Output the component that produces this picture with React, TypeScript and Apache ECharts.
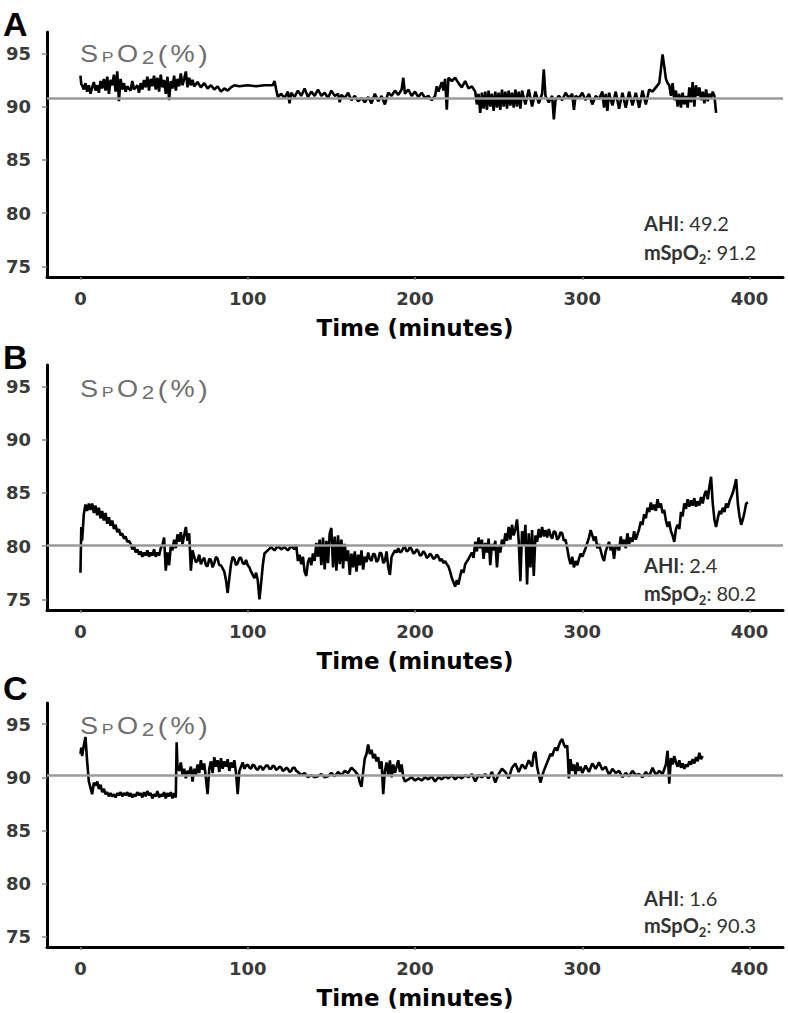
import React, { useEffect, useRef } from 'react';
import * as echarts from 'echarts';

const panelLetters = ['A', 'B', 'C'];
const yTicks = [75, 80, 85, 90, 95];
const xTicks = [0, 100, 200, 300, 400];
const ahiValues = ['49.2', '2.4', '1.6'];
const mspo2Values = ['91.2', '80.2', '90.3'];
const meanLines = [90.8, 80.1, 90.2];
const xAxisTitle = 'Time (minutes)';

const spo2A: [number, number][] = [
  [0,92.9],[0.5,92.1],[1,92.0],[2,91.6],[3,92.2],[4,91.4],[5,92.0],[6,91.2],[7,91.8],[8,92.3],[9,91.5],[10,92.0],[11,91.3],[12,92.4],[13,91.7],[14,92.6],[15,91.5],[16,92.8],[17,91.2],[18,92.5],[19,92.0],[20,93.0],[21,91.4],[22,93.3],[23,90.5],[24,92.6],[25,91.6],[26,92.2],[27,91.4],[28,91.9],[30,91.5],[31,92.4],[32,91.6],[34,92.0],[35,91.3],[36,92.2],[37,91.6],[38,92.5],[39,91.8],[40,92.8],[41,91.5],[42,92.6],[43,91.9],[44,92.9],[45,91.6],[46,92.7],[47,91.4],[48,93.0],[49,91.8],[50,92.5],[51,91.2],[52,92.8],[53,90.6],[54,92.4],[55,91.7],[56,92.9],[57,91.5],[58,92.6],[59,91.9],[60,93.1],[61,92.0],[62,92.6],[63,93.3],[64,91.8],[65,92.7],[66,92.0],[67,92.5],[68,91.9],[70,92.3],[72,91.8],[74,92.2],[76,91.7],[78,92.0],[80,91.6],[82,91.9],[84,91.4],[86,91.7],[88,91.5],[90,91.8],[92,92.0],[95,91.9],[100,92.0],[105,91.9],[110,92.0],[115,92.0],[116,92.4],[117,91.6],[118,90.9],[120,91.2],[122,90.8],[124,91.4],[125,90.3],[126,91.3],[128,90.9],[130,91.5],[132,91.0],[134,91.7],[136,90.9],[138,91.4],[140,91.0],[142,91.6],[144,91.0],[146,91.3],[148,90.8],[150,91.5],[152,91.0],[154,91.2],[155,90.4],[156,91.1],[158,90.8],[160,91.3],[162,90.6],[164,91.0],[166,90.5],[168,90.8],[170,90.4],[172,90.9],[174,90.3],[176,91.2],[178,90.5],[180,91.0],[182,90.2],[184,91.3],[186,91.0],[188,91.5],[190,91.1],[192,91.6],[193,92.7],[194,91.2],[196,91.6],[198,91.0],[200,91.4],[202,90.9],[204,91.3],[206,90.8],[208,91.0],[210,90.6],[212,91.0],[213,91.9],[214,91.4],[216,92.3],[217,91.5],[218,92.6],[219,89.7],[220,92.7],[222,92.4],[224,92.7],[226,92.2],[228,91.8],[230,92.4],[232,91.7],[234,91.9],[236,91.4],[237,90.2],[238,91.2],[239,89.4],[240,91.3],[241,89.8],[242,91.4],[243,89.7],[244,91.5],[245,90.0],[246,91.2],[247,89.6],[248,91.4],[249,89.9],[250,91.3],[251,89.7],[252,91.6],[253,90.0],[254,91.4],[255,89.8],[256,91.5],[257,90.1],[258,91.3],[259,89.9],[260,91.6],[261,90.0],[262,91.4],[263,89.8],[264,91.5],[266,90.2],[268,91.6],[270,90.0],[272,91.4],[274,90.3],[276,91.2],[277,93.5],[278,91.0],[280,90.4],[282,91.0],[283,88.8],[284,90.6],[286,91.0],[288,90.6],[290,91.3],[292,90.8],[294,91.2],[295,89.7],[296,91.0],[298,90.8],[300,91.3],[302,90.6],[304,91.2],[306,90.2],[308,91.0],[310,90.7],[312,91.4],[313,89.9],[314,91.2],[315,89.6],[316,91.3],[318,90.1],[320,91.4],[322,89.8],[324,91.3],[326,89.9],[328,91.4],[330,90.1],[332,91.3],[334,89.9],[336,91.5],[338,90.2],[340,91.6],[342,91.4],[344,91.8],[346,92.2],[347,93.5],[348,94.9],[349,93.8],[350,92.6],[351,92.2],[352,92.0],[353,91.0],[354,92.2],[355,90.6],[356,91.5],[357,90.0],[358,91.2],[359,89.9],[360,91.3],[361,90.2],[362,91.0],[363,89.9],[364,91.8],[365,90.4],[366,92.3],[367,90.0],[368,92.0],[369,91.0],[370,91.8],[371,90.6],[372,91.4],[373,90.3],[374,91.6],[375,90.5],[376,91.2],[377,90.8],[378,91.4],[379,91.0],[380,89.4]
];

const spo2B: [number, number][] = [
  [0,77.5],[0.5,81.8],[1,80.5],[2,83.0],[3,83.9],[4,83.3],[5,84.0],[6,83.4],[7,84.0],[8,83.1],[9,83.8],[10,82.9],[11,83.6],[12,82.6],[13,83.3],[14,82.4],[15,83.1],[16,82.1],[17,82.7],[18,81.9],[19,82.4],[20,81.6],[21,82.0],[22,81.3],[23,81.6],[24,81.0],[25,81.2],[26,80.7],[27,80.9],[28,80.4],[29,80.5],[30,80.2],[31,79.7],[32,80.0],[33,79.4],[34,79.7],[35,79.2],[36,79.5],[37,79.0],[38,79.4],[39,79.1],[40,79.6],[41,79.0],[42,79.4],[43,79.1],[44,79.7],[45,79.0],[46,79.4],[47,79.1],[48,79.8],[49,80.1],[50,80.8],[51,77.7],[52,79.4],[53,78.2],[54,80.0],[55,79.6],[56,80.6],[57,79.8],[58,81.1],[59,80.4],[60,81.3],[61,80.2],[62,81.0],[63,81.8],[64,80.5],[65,81.2],[66,77.7],[67,79.6],[68,79.0],[69,78.5],[70,78.6],[71,79.2],[72,78.3],[73,78.7],[74,78.9],[75,78.2],[76,78.1],[77,78.8],[78,78.7],[79,78.0],[80,78.4],[81,79.0],[82,78.8],[83,78.2],[84,78.2],[85,77.9],[86,77.6],[87,76.8],[88,75.6],[89,77.0],[90,78.3],[91,79.0],[92,78.8],[93,78.2],[94,78.4],[95,78.9],[96,78.9],[97,78.4],[98,78.3],[99,78.7],[100,78.2],[101,78.0],[102,77.6],[103,77.3],[104,77.0],[105,77.5],[106,76.8],[107,75.0],[108,76.5],[109,78.2],[110,79.3],[112,79.6],[114,79.9],[116,79.6],[118,80.0],[120,79.7],[122,79.9],[124,79.6],[126,80.0],[128,79.7],[129,80.1],[130,78.6],[131,79.2],[132,78.3],[133,79.0],[134,77.6],[135,77.2],[136,78.5],[137,78.9],[138,78.2],[139,79.3],[140,78.6],[141,80.3],[142,79.0],[143,80.6],[144,78.2],[145,80.8],[146,77.8],[147,80.5],[148,78.4],[149,81.2],[150,81.7],[151,78.0],[152,80.9],[153,77.7],[154,81.0],[155,78.3],[156,80.6],[157,77.9],[158,80.2],[159,78.6],[160,79.6],[161,77.3],[162,79.3],[163,78.0],[164,79.5],[165,77.6],[166,79.2],[167,78.2],[168,79.6],[169,77.8],[170,79.0],[171,78.5],[172,79.4],[173,78.8],[174,78.6],[175,79.3],[176,79.2],[177,78.5],[178,78.7],[179,79.4],[180,79.3],[181,78.4],[182,78.6],[183,79.5],[184,78.0],[185,77.3],[186,79.0],[187,79.3],[188,79.6],[189,79.4],[190,79.8],[191,79.4],[192,79.5],[193,79.8],[194,79.9],[195,79.5],[196,79.6],[197,79.9],[198,79.7],[199,79.3],[200,79.4],[201,79.7],[202,79.5],[203,79.1],[204,79.2],[205,79.5],[206,79.3],[207,78.9],[208,79.0],[209,79.3],[210,79.1],[211,78.8],[212,78.9],[213,79.2],[214,79.0],[215,78.6],[216,78.8],[217,78.4],[218,78.6],[219,78.3],[220,78.1],[221,77.6],[222,77.0],[223,76.6],[224,76.2],[225,76.8],[226,76.4],[227,77.2],[228,77.8],[229,77.5],[230,78.3],[232,78.8],[234,79.4],[235,78.9],[236,80.4],[237,79.5],[238,80.8],[239,79.8],[240,80.6],[241,78.8],[242,80.3],[243,79.4],[244,80.7],[245,78.2],[246,80.2],[247,79.6],[248,80.5],[249,78.0],[250,80.0],[251,79.4],[252,80.6],[253,80.0],[254,81.2],[255,80.5],[256,81.8],[257,80.6],[258,82.0],[259,81.0],[260,81.6],[261,82.5],[262,80.5],[263,76.7],[264,81.4],[265,80.0],[266,82.0],[267,76.4],[268,81.2],[269,78.0],[270,81.5],[271,77.2],[272,81.0],[273,80.4],[274,81.6],[275,80.8],[276,81.8],[277,80.9],[278,81.5],[279,80.8],[280,81.6],[281,81.0],[282,80.7],[283,81.4],[284,81.3],[285,80.6],[286,80.8],[287,81.3],[288,81.2],[289,80.5],[290,80.6],[291,79.8],[292,78.9],[293,78.3],[294,79.0],[295,78.0],[296,78.6],[297,78.2],[298,78.8],[299,79.3],[300,79.0],[302,79.8],[304,80.8],[305,81.5],[306,81.0],[307,80.5],[308,80.9],[309,79.8],[310,80.2],[312,79.0],[313,78.6],[314,79.5],[316,80.4],[317,79.6],[318,80.0],[319,78.8],[320,80.1],[322,79.6],[323,80.9],[324,80.0],[325,80.6],[326,79.8],[327,81.2],[328,80.2],[329,80.8],[330,80.4],[331,81.4],[332,80.6],[334,81.6],[335,82.3],[336,82.0],[337,83.0],[338,82.6],[339,83.6],[340,83.2],[341,84.1],[342,83.4],[343,83.9],[344,83.3],[345,84.4],[346,83.6],[347,84.0],[348,83.1],[349,83.4],[350,82.4],[351,81.8],[352,82.3],[353,81.4],[354,81.0],[355,80.4],[356,81.6],[357,82.0],[358,81.6],[359,83.2],[360,82.8],[361,84.0],[362,83.5],[363,84.4],[364,83.7],[365,84.3],[366,83.8],[367,84.5],[368,83.7],[369,84.2],[370,83.8],[371,84.6],[372,84.0],[373,84.8],[374,85.2],[375,84.4],[376,85.6],[377,86.5],[378,84.0],[379,82.5],[380,81.8],[381,82.6],[382,83.3],[383,83.0],[384,83.6],[385,83.2],[386,84.0],[387,83.6],[388,84.2],[389,84.6],[390,85.0],[391,85.6],[392,86.3],[393,84.0],[394,82.8],[395,82.0],[396,82.5],[397,83.2],[398,84.0],[399,84.1]
];

const spo2C: [number, number][] = [
  [0,92.2],[0.5,92.8],[1,92.0],[2,93.0],[3,93.8],[4,91.5],[5,89.6],[6,89.0],[7,88.4],[8,89.5],[9,89.2],[10,89.6],[11,88.9],[12,89.3],[13,88.6],[14,88.9],[15,88.4],[16,88.6],[17,88.2],[18,88.5],[19,88.2],[20,88.4],[21,88.1],[22,88.5],[23,88.3],[24,88.6],[25,88.2],[26,88.5],[27,88.3],[28,88.6],[29,88.2],[30,88.5],[31,88.1],[32,88.4],[33,88.2],[34,88.6],[35,88.3],[36,88.5],[37,88.1],[38,88.6],[39,88.2],[40,88.7],[41,88.3],[42,88.5],[43,88.0],[44,88.4],[45,88.2],[46,88.7],[47,88.1],[48,88.4],[49,88.2],[50,88.6],[51,88.0],[52,88.5],[53,88.2],[54,88.6],[55,88.0],[56,88.5],[57,88.1],[57.5,93.3],[58,91.0],[59,90.6],[60,91.4],[61,90.2],[62,90.8],[63,89.9],[64,90.6],[65,90.3],[66,91.0],[67,89.6],[68,90.8],[69,90.2],[70,91.2],[71,90.4],[72,91.6],[73,90.7],[74,91.3],[75,89.9],[76,88.4],[77,90.8],[78,91.5],[79,90.4],[80,91.9],[81,91.0],[82,91.6],[83,90.5],[84,91.8],[85,90.8],[86,91.5],[87,91.0],[88,91.7],[89,90.6],[90,91.4],[91,90.9],[92,91.6],[93,90.4],[94,88.4],[95,90.6],[96,91.0],[97,91.4],[98,90.8],[99,91.1],[100,91.2],[101,90.9],[102,90.8],[103,91.2],[104,91.1],[105,90.8],[106,90.7],[107,91.0],[108,91.0],[109,90.7],[110,90.9],[111,91.1],[112,91.1],[113,90.8],[114,90.8],[115,91.1],[116,91.0],[117,90.7],[118,90.8],[119,91.0],[120,90.9],[121,90.6],[122,90.7],[123,90.9],[124,90.8],[125,90.5],[126,90.6],[127,90.9],[128,90.9],[129,90.6],[130,90.5],[132,90.2],[134,90.4],[136,90.0],[138,90.2],[140,90.0],[142,90.1],[144,90.3],[146,90.0],[148,90.1],[150,90.4],[152,90.1],[154,90.5],[156,90.2],[158,90.6],[160,90.4],[162,90.9],[164,90.6],[166,90.2],[167,89.5],[168,89.1],[169,90.5],[170,91.8],[171,92.2],[172,93.1],[173,92.2],[174,92.6],[175,91.8],[176,92.2],[177,91.5],[178,91.9],[179,90.8],[180,91.5],[181,88.4],[182,90.6],[183,91.4],[184,90.2],[185,91.6],[186,90.0],[187,91.2],[188,90.4],[189,91.0],[190,91.6],[191,90.5],[192,91.2],[193,90.0],[194,89.6],[196,89.8],[198,90.0],[200,89.7],[202,89.9],[204,89.7],[206,90.0],[208,89.8],[210,90.1],[212,89.6],[214,90.0],[216,89.8],[218,90.1],[220,89.9],[222,90.2],[224,89.8],[226,90.1],[228,89.9],[230,90.2],[232,90.0],[234,90.3],[236,89.6],[238,90.2],[240,90.0],[242,90.3],[244,89.9],[246,90.5],[248,89.5],[250,90.3],[252,90.8],[254,90.5],[256,89.9],[258,90.9],[260,91.3],[262,90.5],[264,91.2],[266,90.8],[268,91.6],[270,91.0],[271,92.2],[272,92.4],[273,91.0],[274,90.2],[275,89.5],[276,90.1],[277,90.6],[278,91.0],[279,91.4],[280,91.8],[281,92.2],[282,92.0],[283,92.5],[284,92.8],[285,92.5],[286,93.0],[287,93.4],[288,93.6],[289,93.1],[290,92.8],[291,93.0],[292,89.9],[293,91.7],[294,90.6],[295,91.2],[296,90.2],[297,91.4],[298,90.6],[299,91.0],[300,90.4],[302,91.1],[304,90.5],[306,91.3],[308,90.8],[310,91.4],[312,90.7],[314,91.0],[316,90.2],[318,90.8],[320,90.4],[322,90.6],[324,90.0],[326,90.4],[328,90.1],[330,90.6],[332,90.2],[334,90.3],[336,90.0],[338,90.5],[340,90.1],[342,90.9],[344,90.2],[346,90.6],[348,90.3],[350,91.2],[351,92.5],[352,89.4],[353,91.8],[354,91.2],[355,92.0],[356,91.4],[357,91.0],[358,91.6],[359,90.9],[360,91.3],[361,90.8],[362,91.2],[363,91.0],[364,91.5],[365,91.2],[366,91.7],[367,91.3],[368,91.9],[369,91.5],[370,92.3],[371,91.7],[372,92.0]
];

const seriesData = [spo2A, spo2B, spo2C];

const GRID_TOPS = [32, 365, 703];
const GRID_H = [245, 245, 244];
const GRID_LEFT = 47;
const GRID_W = 736;
const LETTER_TOPS = [7, 340, 671];
const LABEL_Y = [54, 389, 726];
const AHI_Y = [223, 565, 898];
const MSPO_Y = [252, 593, 925];

export default function App() {
  const ref = useRef<HTMLDivElement>(null);
  useEffect(() => {
    if (!ref.current) return;
    const chart = echarts.init(ref.current, null, { renderer: 'svg' });
    const grids: any[] = [];
    const xAxes: any[] = [];
    const yAxes: any[] = [];
    const series: any[] = [];
    const graphics: any[] = [];
    const gray = '#6e6e6e';
    const lab = (size: number, pad: number) => ({
      fontSize: size, fontFamily: 'Liberation Sans', fill: gray, padding: [pad, 3, 0, 0],
    });
    for (let i = 0; i < 3; i++) {
      grids.push({ left: GRID_LEFT, top: GRID_TOPS[i], width: GRID_W, height: GRID_H[i] });
      xAxes.push({
        type: 'value', gridIndex: i, min: -20, max: 420,
        axisLine: { show: true, onZero: false, lineStyle: { color: '#000', width: 3 } },
        axisTick: { show: true, customValues: xTicks, length: 3, lineStyle: { color: '#888', width: 1.5 } },
        axisLabel: { customValues: xTicks, margin: 12, color: '#3a3a3a', fontFamily: 'DejaVu Sans', fontWeight: 'bold', fontSize: 18 },
        splitLine: { show: false },
        name: xAxisTitle, nameLocation: 'middle', nameGap: 39,
        nameTextStyle: { color: '#000', fontFamily: 'DejaVu Sans', fontWeight: 'bold', fontSize: 23 },
      });
      yAxes.push({
        type: 'value', gridIndex: i, min: 74, max: 97,
        axisLine: { show: true, onZero: false, lineStyle: { color: '#000', width: 3 } },
        axisTick: { show: true, customValues: yTicks, length: 5, lineStyle: { color: '#888', width: 1.5 } },
        axisLabel: { customValues: yTicks, margin: 16, color: '#3a3a3a', fontFamily: 'DejaVu Sans', fontWeight: 'bold', fontSize: 18 },
        splitLine: { show: false },
      });
      series.push({
        type: 'line', xAxisIndex: i, yAxisIndex: i, data: seriesData[i],
        showSymbol: false, symbol: 'none',
        lineStyle: { color: '#000', width: 2.6 },
        markLine: {
          silent: true, symbol: 'none', label: { show: false },
          lineStyle: { color: '#9a9a9a', width: 2.5, type: 'solid' },
          data: [{ yAxis: meanLines[i] }],
        },
      });
      graphics.push({
        type: 'text', x: 3, y: LETTER_TOPS[i],
        style: { text: panelLetters[i], fill: '#000', font: 'bold 34px "Liberation Sans", Arial, sans-serif', verticalAlign: 'top' },
      });
      graphics.push({
        type: 'text', x: 80, y: LABEL_Y[i], scaleX: 1.18,
        style: {
          text: '{s|S}{p|P}{s|O}{sub|2}{q|(}{s|%}{q|)}',
          verticalAlign: 'middle',
          rich: {
            s: lab(23, 0),
            q: { fontSize: 24, fontFamily: 'Liberation Sans', fill: gray, padding: [1, 3, 0, 0] },
            p: lab(15, 6),
            sub: lab(19, 7),
          },
        },
      });
      graphics.push({
        type: 'text', x: 644, y: AHI_Y[i],
        style: {
          text: `{b|AHI}{n|: ${ahiValues[i]}}`, verticalAlign: 'middle',
          rich: {
            b: { fontSize: 20, fontFamily: 'Lato', fontWeight: 'bold', fill: '#333' },
            n: { fontSize: 20, fontFamily: 'Lato', fill: '#333' },
          },
        },
      });
      graphics.push({
        type: 'text', x: 644, y: MSPO_Y[i],
        style: {
          text: `{b|mSpO}{sub|2}{n|: ${mspo2Values[i]}}`, verticalAlign: 'middle',
          rich: {
            b: { fontSize: 20, fontFamily: 'Lato', fontWeight: 'bold', fill: '#333' },
            sub: { fontSize: 13, fontFamily: 'Lato', fontWeight: 'bold', fill: '#333', padding: [14, 0, 0, 0] },
            n: { fontSize: 20, fontFamily: 'Lato', fill: '#333' },
          },
        },
      });
    }
    chart.setOption({
      animation: false,
      backgroundColor: '#fff',
      grid: grids,
      xAxis: xAxes,
      yAxis: yAxes,
      series,
      graphic: graphics,
    });
    return () => chart.dispose();
  }, []);
  return <div ref={ref} style={{ position: 'absolute', left: 0, top: 0, width: 788, height: 1013 }} />;
}
